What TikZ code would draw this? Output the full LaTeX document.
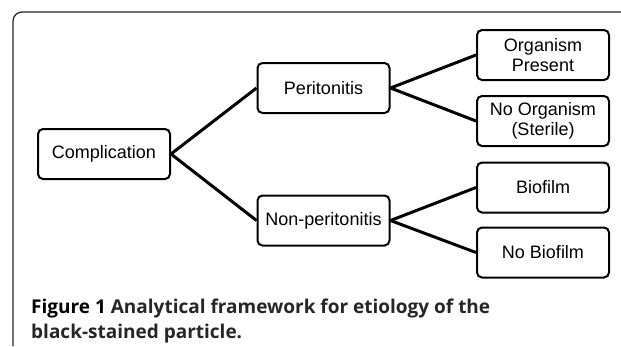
\documentclass[tikz,border=0pt]{standalone}
\usepackage{fontspec}
\setmainfont{Liberation Sans}
\newfontfamily\capfont{Open Sans}
\usetikzlibrary{positioning}

\begin{document}
\begin{tikzpicture}[x=1pt, y=1pt,
  box/.style={draw, line width=2pt, rounded corners=5pt, minimum width=132pt,
    minimum height=50pt, align=center, inner sep=2pt,
    font=\fontsize{18}{20}\selectfont},
  link/.style={line width=3pt}]
\useasboundingbox (0,0) rectangle (621,-346);
% frame
\draw[line width=1.3pt, color=black!85, rounded corners=9pt] (13,-346) -- (13,-12) -- (640,-12);
% tree
\node[box] (comp) at (104,-154) {Complication};
\node[box] (perit) at (323.5,-88) {Peritonitis};
\node[box] (nonperit) at (323.5,-220.5) {Non-peritonitis};
\node[box] (orgpres) at (543,-55) {Organism\\Present};
\node[box] (noorg) at (543,-121) {No Organism\\(Sterile)};
\node[box] (biofilm) at (543,-187.5) {Biofilm};
\node[box] (nobiofilm) at (543,-252.5) {No Biofilm};
\draw[link] (comp.east) -- (perit.west);
\draw[link] (comp.east) -- (nonperit.west);
\draw[link] (perit.east) -- (orgpres.west);
\draw[link] (perit.east) -- (noorg.west);
\draw[link] (nonperit.east) -- (biofilm.west);
\draw[link] (nonperit.east) -- (nobiofilm.west);
% caption
\node[anchor=base west, align=left, inner sep=0pt, text=black!85,
  font=\capfont\bfseries\fontsize{19}{25}\selectfont] (caption) at (31,-338)
  {{\color{black}Figure 1} Analytical framework for etiology of the\\black-stained particle.};
\end{tikzpicture}
\end{document}
